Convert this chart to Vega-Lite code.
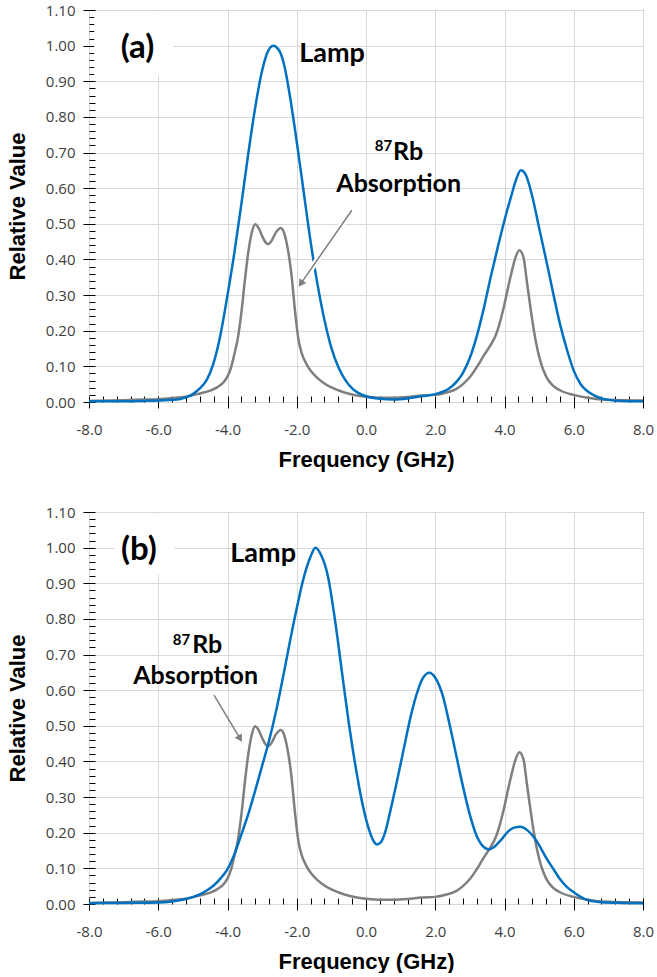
{
  "$schema": "https://vega.github.io/schema/vega-lite/v6.json",
  "background": "white",
  "padding": {"left": 5, "top": 2, "right": 0, "bottom": 0},
  "bounds": "flush",
  "spacing": 110,
  "config": {
    "view": {"stroke": "#000000", "strokeWidth": 1}
  },
  "datasets": {
    "rb": [
      {"freq": -8.0, "value": 0.003}, {"freq": -7.0, "value": 0.005}, {"freq": -6.4, "value": 0.007},
      {"freq": -6.0, "value": 0.008}, {"freq": -5.6, "value": 0.011}, {"freq": -5.2, "value": 0.015},
      {"freq": -4.8, "value": 0.024}, {"freq": -4.5, "value": 0.032}, {"freq": -4.3, "value": 0.041},
      {"freq": -4.1, "value": 0.057}, {"freq": -4.0, "value": 0.072}, {"freq": -3.9, "value": 0.096},
      {"freq": -3.8, "value": 0.135}, {"freq": -3.7, "value": 0.18}, {"freq": -3.6, "value": 0.25},
      {"freq": -3.5, "value": 0.34}, {"freq": -3.4, "value": 0.42}, {"freq": -3.3, "value": 0.475},
      {"freq": -3.2, "value": 0.499}, {"freq": -3.1, "value": 0.488}, {"freq": -3.0, "value": 0.466},
      {"freq": -2.9, "value": 0.448}, {"freq": -2.84, "value": 0.443}, {"freq": -2.75, "value": 0.449},
      {"freq": -2.6, "value": 0.476}, {"freq": -2.46, "value": 0.488}, {"freq": -2.35, "value": 0.47},
      {"freq": -2.25, "value": 0.425}, {"freq": -2.15, "value": 0.355}, {"freq": -2.05, "value": 0.255},
      {"freq": -1.95, "value": 0.175}, {"freq": -1.85, "value": 0.135}, {"freq": -1.7, "value": 0.103},
      {"freq": -1.55, "value": 0.082}, {"freq": -1.4, "value": 0.067}, {"freq": -1.2, "value": 0.052},
      {"freq": -1.0, "value": 0.041}, {"freq": -0.8, "value": 0.033}, {"freq": -0.6, "value": 0.026},
      {"freq": -0.3, "value": 0.019}, {"freq": 0.0, "value": 0.015}, {"freq": 0.4, "value": 0.012},
      {"freq": 0.8, "value": 0.012}, {"freq": 1.2, "value": 0.014}, {"freq": 1.6, "value": 0.018},
      {"freq": 2.0, "value": 0.02}, {"freq": 2.3, "value": 0.026}, {"freq": 2.6, "value": 0.036},
      {"freq": 2.8, "value": 0.05}, {"freq": 3.0, "value": 0.07}, {"freq": 3.2, "value": 0.098},
      {"freq": 3.4, "value": 0.13}, {"freq": 3.6, "value": 0.16}, {"freq": 3.75, "value": 0.188},
      {"freq": 3.9, "value": 0.235}, {"freq": 4.0, "value": 0.275}, {"freq": 4.1, "value": 0.32},
      {"freq": 4.2, "value": 0.362}, {"freq": 4.3, "value": 0.4}, {"freq": 4.43, "value": 0.426},
      {"freq": 4.55, "value": 0.405}, {"freq": 4.65, "value": 0.335}, {"freq": 4.75, "value": 0.265},
      {"freq": 4.85, "value": 0.2}, {"freq": 4.95, "value": 0.148}, {"freq": 5.05, "value": 0.11},
      {"freq": 5.2, "value": 0.072}, {"freq": 5.4, "value": 0.046}, {"freq": 5.6, "value": 0.033},
      {"freq": 6.0, "value": 0.02}, {"freq": 6.4, "value": 0.012}, {"freq": 7.0, "value": 0.006},
      {"freq": 8.0, "value": 0.004}
    ],
    "lampA": [
      {"freq": -8.0, "value": 0.002}, {"freq": -7.0, "value": 0.002}, {"freq": -6.4, "value": 0.003},
      {"freq": -6.0, "value": 0.004}, {"freq": -5.6, "value": 0.006}, {"freq": -5.4, "value": 0.008},
      {"freq": -5.2, "value": 0.013}, {"freq": -5.0, "value": 0.022}, {"freq": -4.8, "value": 0.038},
      {"freq": -4.6, "value": 0.062}, {"freq": -4.4, "value": 0.11}, {"freq": -4.2, "value": 0.19},
      {"freq": -4.0, "value": 0.3}, {"freq": -3.8, "value": 0.42}, {"freq": -3.6, "value": 0.555},
      {"freq": -3.4, "value": 0.697}, {"freq": -3.2, "value": 0.826}, {"freq": -3.0, "value": 0.93},
      {"freq": -2.85, "value": 0.98}, {"freq": -2.68, "value": 1.0}, {"freq": -2.5, "value": 0.985},
      {"freq": -2.35, "value": 0.94}, {"freq": -2.2, "value": 0.86}, {"freq": -2.0, "value": 0.73},
      {"freq": -1.8, "value": 0.59}, {"freq": -1.6, "value": 0.45}, {"freq": -1.4, "value": 0.33},
      {"freq": -1.2, "value": 0.23}, {"freq": -1.0, "value": 0.152}, {"freq": -0.8, "value": 0.098},
      {"freq": -0.6, "value": 0.062}, {"freq": -0.4, "value": 0.038}, {"freq": -0.2, "value": 0.024},
      {"freq": 0.0, "value": 0.016}, {"freq": 0.4, "value": 0.009}, {"freq": 0.8, "value": 0.007},
      {"freq": 1.2, "value": 0.01}, {"freq": 1.6, "value": 0.016}, {"freq": 2.0, "value": 0.022},
      {"freq": 2.2, "value": 0.028}, {"freq": 2.4, "value": 0.038}, {"freq": 2.6, "value": 0.055},
      {"freq": 2.8, "value": 0.082}, {"freq": 3.0, "value": 0.124}, {"freq": 3.2, "value": 0.185},
      {"freq": 3.4, "value": 0.262}, {"freq": 3.6, "value": 0.35}, {"freq": 3.8, "value": 0.432},
      {"freq": 4.0, "value": 0.51}, {"freq": 4.2, "value": 0.58}, {"freq": 4.35, "value": 0.628},
      {"freq": 4.47, "value": 0.65}, {"freq": 4.6, "value": 0.64}, {"freq": 4.8, "value": 0.578},
      {"freq": 5.0, "value": 0.488}, {"freq": 5.2, "value": 0.4}, {"freq": 5.4, "value": 0.308},
      {"freq": 5.6, "value": 0.22}, {"freq": 5.8, "value": 0.148}, {"freq": 6.0, "value": 0.088},
      {"freq": 6.2, "value": 0.05}, {"freq": 6.4, "value": 0.03}, {"freq": 6.6, "value": 0.018},
      {"freq": 6.8, "value": 0.01}, {"freq": 7.0, "value": 0.006}, {"freq": 7.4, "value": 0.003},
      {"freq": 8.0, "value": 0.002}
    ],
    "lampB": [
      {"freq": -8.0, "value": 0.002}, {"freq": -7.0, "value": 0.003}, {"freq": -6.0, "value": 0.004},
      {"freq": -5.6, "value": 0.007}, {"freq": -5.2, "value": 0.014}, {"freq": -4.8, "value": 0.027},
      {"freq": -4.6, "value": 0.038}, {"freq": -4.4, "value": 0.052}, {"freq": -4.2, "value": 0.072},
      {"freq": -4.0, "value": 0.098}, {"freq": -3.8, "value": 0.14}, {"freq": -3.6, "value": 0.195},
      {"freq": -3.4, "value": 0.252}, {"freq": -3.2, "value": 0.318}, {"freq": -3.0, "value": 0.388},
      {"freq": -2.8, "value": 0.458}, {"freq": -2.6, "value": 0.54}, {"freq": -2.4, "value": 0.635},
      {"freq": -2.2, "value": 0.735}, {"freq": -2.0, "value": 0.83}, {"freq": -1.8, "value": 0.915},
      {"freq": -1.6, "value": 0.975}, {"freq": -1.46, "value": 1.0}, {"freq": -1.3, "value": 0.98},
      {"freq": -1.1, "value": 0.92}, {"freq": -0.9, "value": 0.8}, {"freq": -0.7, "value": 0.655},
      {"freq": -0.5, "value": 0.51}, {"freq": -0.3, "value": 0.385}, {"freq": -0.1, "value": 0.28},
      {"freq": 0.1, "value": 0.205}, {"freq": 0.2, "value": 0.18}, {"freq": 0.32, "value": 0.167},
      {"freq": 0.42, "value": 0.172}, {"freq": 0.55, "value": 0.2},
      {"freq": 0.7, "value": 0.26}, {"freq": 0.9, "value": 0.347}, {"freq": 1.1, "value": 0.44},
      {"freq": 1.3, "value": 0.53}, {"freq": 1.5, "value": 0.6}, {"freq": 1.65, "value": 0.635},
      {"freq": 1.83, "value": 0.649}, {"freq": 2.0, "value": 0.635}, {"freq": 2.2, "value": 0.59},
      {"freq": 2.4, "value": 0.51}, {"freq": 2.6, "value": 0.42}, {"freq": 2.8, "value": 0.33},
      {"freq": 3.0, "value": 0.25}, {"freq": 3.2, "value": 0.19}, {"freq": 3.4, "value": 0.16},
      {"freq": 3.55, "value": 0.153}, {"freq": 3.7, "value": 0.16}, {"freq": 3.9, "value": 0.18},
      {"freq": 4.1, "value": 0.203}, {"freq": 4.3, "value": 0.215}, {"freq": 4.46, "value": 0.217},
      {"freq": 4.65, "value": 0.208}, {"freq": 4.85, "value": 0.187}, {"freq": 5.0, "value": 0.165},
      {"freq": 5.2, "value": 0.13}, {"freq": 5.4, "value": 0.1}, {"freq": 5.6, "value": 0.07},
      {"freq": 5.8, "value": 0.048}, {"freq": 6.0, "value": 0.033}, {"freq": 6.2, "value": 0.02},
      {"freq": 6.4, "value": 0.011}, {"freq": 6.8, "value": 0.005}, {"freq": 7.4, "value": 0.003},
      {"freq": 8.0, "value": 0.002}
    ]
  },
  "vconcat": [
    {
      "width": 554,
      "height": 392,
      "layer": [
        {
          "data": {"name": "rb"},
          "mark": {"type": "line", "color": "#7f7f7f", "strokeWidth": 2.5, "interpolate": "monotone"},
          "encoding": {
            "x": {
              "field": "freq", "type": "quantitative",
              "scale": {"domain": [-8, 8], "nice": false, "zero": false},
              "axis": {
                "title": "Frequency (GHz)",
                "values": [-8,-7.6,-7.2,-6.8,-6.4,-6,-5.6,-5.2,-4.8,-4.4,-4,-3.6,-3.2,-2.8,-2.4,-2,-1.6,-1.2,-0.8,-0.4,0,0.4,0.8,1.2,1.6,2,2.4,2.8,3.2,3.6,4,4.4,4.8,5.2,5.6,6,6.4,6.8,7.2,7.6,8],
                "tickCount": 200,
                "labelExpr": "abs(datum.value/2 - round(datum.value/2)) < 0.01 ? (datum.value < 0 ? '-' : '') + format(abs(datum.value), '.1f') : ''",
                "labelOverlap": false, "labelFlush": false,
                "domain": false, "offset": -6,
                "tickSize": {"condition": {"test": "abs(datum.value/2 - round(datum.value/2)) < 0.01", "value": 12}, "value": 6},
                "tickColor": "#000000", "tickWidth": 1,
                "grid": true, "gridColor": "#d9d9d9", "gridWidth": 1,
                "gridOpacity": {"condition": {"test": "abs(datum.value/2 - round(datum.value/2)) < 0.01", "value": 1}, "value": 0},
                "labelFont": "Open Sans", "labelFontSize": 15, "labelColor": "#404040", "labelPadding": 14,
                "titleFont": "Liberation Sans", "titleFontSize": 22, "titleFontWeight": "bold", "titleColor": "#000000", "titlePadding": 12
              }
            },
            "y": {
              "field": "value", "type": "quantitative",
              "scale": {"domain": [0, 1.1], "nice": false, "zero": false},
              "axis": {
                "title": "Relative Value",
                "values": [0,0.02,0.04,0.06,0.08,0.1,0.12,0.14,0.16,0.18,0.2,0.22,0.24,0.26,0.28,0.3,0.32,0.34,0.36,0.38,0.4,0.42,0.44,0.46,0.48,0.5,0.52,0.54,0.56,0.58,0.6,0.62,0.64,0.66,0.68,0.7,0.72,0.74,0.76,0.78,0.8,0.82,0.84,0.86,0.88,0.9,0.92,0.94,0.96,0.98,1,1.02,1.04,1.06,1.08,1.1],
                "tickCount": 200,
                "labelExpr": "abs(datum.value*10 - round(datum.value*10)) < 0.01 ? format(datum.value, '.2f') : ''",
                "labelOverlap": false, "labelFlush": false,
                "domain": false, "offset": -6,
                "tickSize": {"condition": {"test": "abs(datum.value*10 - round(datum.value*10)) < 0.01", "value": 12}, "value": 6},
                "tickColor": "#000000", "tickWidth": 1,
                "grid": true, "gridColor": "#d9d9d9", "gridWidth": 1,
                "gridOpacity": {"condition": {"test": "abs(datum.value*10 - round(datum.value*10)) < 0.01", "value": 1}, "value": 0},
                "labelFont": "Open Sans", "labelFontSize": 15, "labelColor": "#404040", "labelPadding": 8,
                "titleFont": "Liberation Sans", "titleFontSize": 22, "titleFontWeight": "bold", "titleColor": "#000000", "titlePadding": 16
              }
            }
          }
        },
        {
          "data": {"name": "lampA"},
          "mark": {"type": "line", "color": "#0070c0", "strokeWidth": 2.5, "interpolate": "monotone"},
          "encoding": {
            "x": {"field": "freq", "type": "quantitative"},
            "y": {"field": "value", "type": "quantitative"}
          }
        },
        {
          "data": {"values": [{}]},
          "mark": {"type": "rect", "fill": "white"},
          "encoding": {
            "x": {"datum": -7.85}, "x2": {"datum": -5.57},
            "y": {"datum": 0.917}, "y2": {"datum": 1.096}
          }
        },
        {
          "data": {"values": [{}]},
          "mark": {"type": "rule", "color": "white", "strokeWidth": 6},
          "encoding": {
            "x": {"datum": -0.41}, "y": {"datum": 0.538},
            "x2": {"datum": -1.883}, "y2": {"datum": 0.332}
          }
        },
        {
          "data": {"values": [{}]},
          "mark": {"type": "rule", "color": "#7f7f7f", "strokeWidth": 1.5},
          "encoding": {
            "x": {"datum": -0.41}, "y": {"datum": 0.538},
            "x2": {"datum": -1.883}, "y2": {"datum": 0.332}
          }
        },
        {
          "data": {"values": [{}]},
          "mark": {"type": "point", "shape": "triangle-up", "filled": true, "color": "#7f7f7f", "opacity": 1, "size": 70, "angle": 214.8},
          "encoding": {"x": {"datum": -1.883}, "y": {"datum": 0.332}}
        },
        {
          "data": {"values": [{}]},
          "mark": {"type": "text", "text": "(a)", "font": "Lato", "fontWeight": "bold", "fontSize": 33, "align": "center", "baseline": "alphabetic", "color": "#000000"},
          "encoding": {"x": {"datum": -6.6}, "y": {"datum": 0.964}}
        },
        {
          "data": {"values": [{}]},
          "mark": {"type": "text", "text": "Lamp", "font": "Lato", "fontWeight": "bold", "fontSize": 27, "align": "center", "baseline": "alphabetic", "color": "#000000"},
          "encoding": {"x": {"datum": -0.98}, "y": {"datum": 0.955}}
        },
        {
          "data": {"values": [{}]},
          "mark": {"type": "text", "text": "87", "font": "Lato", "fontWeight": "bold", "fontSize": 15, "align": "right", "baseline": "alphabetic", "color": "#000000"},
          "encoding": {"x": {"datum": 0.756}, "y": {"datum": 0.705}}
        },
        {
          "data": {"values": [{}]},
          "mark": {"type": "text", "text": "Rb", "font": "Lato", "fontWeight": "bold", "fontSize": 25, "align": "left", "baseline": "alphabetic", "color": "#000000"},
          "encoding": {"x": {"datum": 0.78}, "y": {"datum": 0.679}}
        },
        {
          "data": {"values": [{}]},
          "mark": {"type": "text", "text": "Absorption", "font": "Lato", "fontWeight": "bold", "fontSize": 25, "align": "center", "baseline": "alphabetic", "color": "#000000"},
          "encoding": {"x": {"datum": 0.944}, "y": {"datum": 0.589}}
        }
      ]
    },
    {
      "width": 554,
      "height": 392,
      "layer": [
        {
          "data": {"name": "rb"},
          "mark": {"type": "line", "color": "#7f7f7f", "strokeWidth": 2.5, "interpolate": "monotone"},
          "encoding": {
            "x": {
              "field": "freq", "type": "quantitative",
              "scale": {"domain": [-8, 8], "nice": false, "zero": false},
              "axis": {
                "title": "Frequency (GHz)",
                "values": [-8,-7.6,-7.2,-6.8,-6.4,-6,-5.6,-5.2,-4.8,-4.4,-4,-3.6,-3.2,-2.8,-2.4,-2,-1.6,-1.2,-0.8,-0.4,0,0.4,0.8,1.2,1.6,2,2.4,2.8,3.2,3.6,4,4.4,4.8,5.2,5.6,6,6.4,6.8,7.2,7.6,8],
                "tickCount": 200,
                "labelExpr": "abs(datum.value/2 - round(datum.value/2)) < 0.01 ? (datum.value < 0 ? '-' : '') + format(abs(datum.value), '.1f') : ''",
                "labelOverlap": false, "labelFlush": false,
                "domain": false, "offset": -6,
                "tickSize": {"condition": {"test": "abs(datum.value/2 - round(datum.value/2)) < 0.01", "value": 12}, "value": 6},
                "tickColor": "#000000", "tickWidth": 1,
                "grid": true, "gridColor": "#d9d9d9", "gridWidth": 1,
                "gridOpacity": {"condition": {"test": "abs(datum.value/2 - round(datum.value/2)) < 0.01", "value": 1}, "value": 0},
                "labelFont": "Open Sans", "labelFontSize": 15, "labelColor": "#404040", "labelPadding": 14,
                "titleFont": "Liberation Sans", "titleFontSize": 22, "titleFontWeight": "bold", "titleColor": "#000000", "titlePadding": 12
              }
            },
            "y": {
              "field": "value", "type": "quantitative",
              "scale": {"domain": [0, 1.1], "nice": false, "zero": false},
              "axis": {
                "title": "Relative Value",
                "values": [0,0.02,0.04,0.06,0.08,0.1,0.12,0.14,0.16,0.18,0.2,0.22,0.24,0.26,0.28,0.3,0.32,0.34,0.36,0.38,0.4,0.42,0.44,0.46,0.48,0.5,0.52,0.54,0.56,0.58,0.6,0.62,0.64,0.66,0.68,0.7,0.72,0.74,0.76,0.78,0.8,0.82,0.84,0.86,0.88,0.9,0.92,0.94,0.96,0.98,1,1.02,1.04,1.06,1.08,1.1],
                "tickCount": 200,
                "labelExpr": "abs(datum.value*10 - round(datum.value*10)) < 0.01 ? format(datum.value, '.2f') : ''",
                "labelOverlap": false, "labelFlush": false,
                "domain": false, "offset": -6,
                "tickSize": {"condition": {"test": "abs(datum.value*10 - round(datum.value*10)) < 0.01", "value": 12}, "value": 6},
                "tickColor": "#000000", "tickWidth": 1,
                "grid": true, "gridColor": "#d9d9d9", "gridWidth": 1,
                "gridOpacity": {"condition": {"test": "abs(datum.value*10 - round(datum.value*10)) < 0.01", "value": 1}, "value": 0},
                "labelFont": "Open Sans", "labelFontSize": 15, "labelColor": "#404040", "labelPadding": 8,
                "titleFont": "Liberation Sans", "titleFontSize": 22, "titleFontWeight": "bold", "titleColor": "#000000", "titlePadding": 16
              }
            }
          }
        },
        {
          "data": {"name": "lampB"},
          "mark": {"type": "line", "color": "#0070c0", "strokeWidth": 2.5, "interpolate": "monotone"},
          "encoding": {
            "x": {"field": "freq", "type": "quantitative"},
            "y": {"field": "value", "type": "quantitative"}
          }
        },
        {
          "data": {"values": [{}]},
          "mark": {"type": "rect", "fill": "white"},
          "encoding": {
            "x": {"datum": -7.27}, "x2": {"datum": -5.54},
            "y": {"datum": 0.923}, "y2": {"datum": 1.096}
          }
        },
        {
          "data": {"values": [{}]},
          "mark": {"type": "rule", "color": "#7f7f7f", "strokeWidth": 1.5},
          "encoding": {
            "x": {"datum": -4.39}, "y": {"datum": 0.586},
            "x2": {"datum": -3.635}, "y2": {"datum": 0.464}
          }
        },
        {
          "data": {"values": [{}]},
          "mark": {"type": "point", "shape": "triangle-up", "filled": true, "color": "#7f7f7f", "opacity": 1, "size": 70, "angle": 148.8},
          "encoding": {"x": {"datum": -3.635}, "y": {"datum": 0.464}}
        },
        {
          "data": {"values": [{}]},
          "mark": {"type": "text", "text": "(b)", "font": "Lato", "fontWeight": "bold", "fontSize": 33, "align": "center", "baseline": "alphabetic", "color": "#000000"},
          "encoding": {"x": {"datum": -6.56}, "y": {"datum": 0.966}}
        },
        {
          "data": {"values": [{}]},
          "mark": {"type": "text", "text": "Lamp", "font": "Lato", "fontWeight": "bold", "fontSize": 27, "align": "center", "baseline": "alphabetic", "color": "#000000"},
          "encoding": {"x": {"datum": -2.97}, "y": {"datum": 0.961}}
        },
        {
          "data": {"values": [{}]},
          "mark": {"type": "text", "text": "87", "font": "Lato", "fontWeight": "bold", "fontSize": 15, "align": "right", "baseline": "alphabetic", "color": "#000000"},
          "encoding": {"x": {"datum": -5.08}, "y": {"datum": 0.727}}
        },
        {
          "data": {"values": [{}]},
          "mark": {"type": "text", "text": "Rb", "font": "Lato", "fontWeight": "bold", "fontSize": 25, "align": "left", "baseline": "alphabetic", "color": "#000000"},
          "encoding": {"x": {"datum": -5.02}, "y": {"datum": 0.705}}
        },
        {
          "data": {"values": [{}]},
          "mark": {"type": "text", "text": "Absorption", "font": "Lato", "fontWeight": "bold", "fontSize": 25, "align": "center", "baseline": "alphabetic", "color": "#000000"},
          "encoding": {"x": {"datum": -4.92}, "y": {"datum": 0.617}}
        }
      ]
    }
  ]
}
